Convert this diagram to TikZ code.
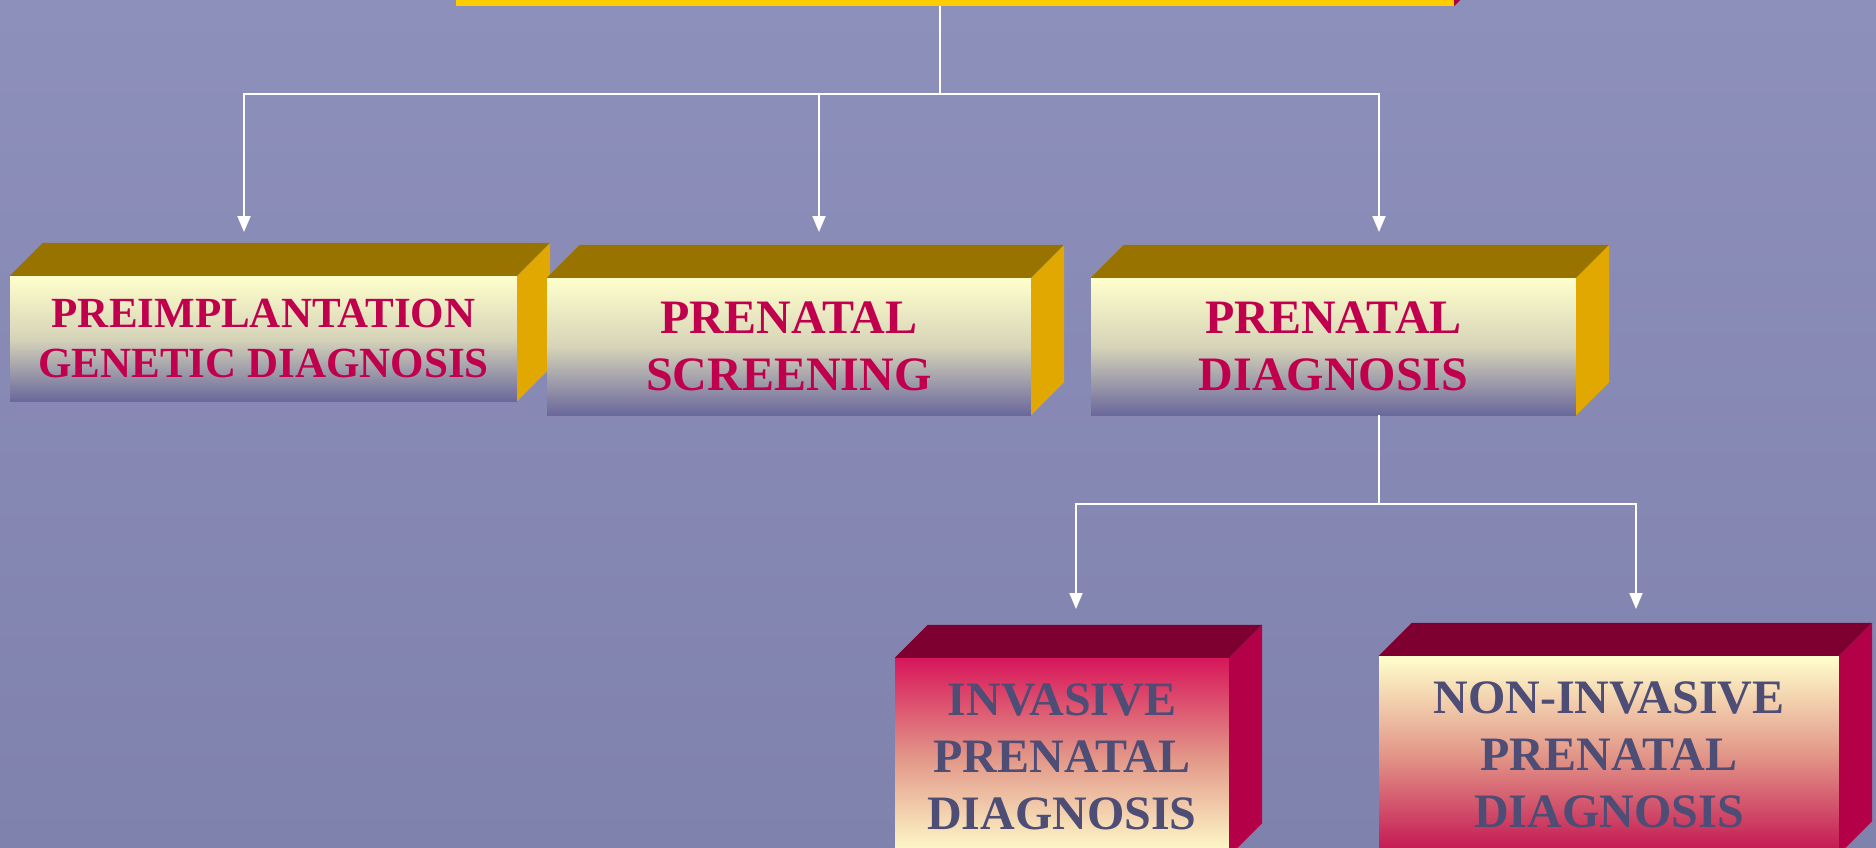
\documentclass[tikz,border=0pt]{standalone}
\usepackage{fontspec}
\setmainfont{Liberation Serif}
\usetikzlibrary{arrows.meta}
\definecolor{bgtop}{RGB}{142,144,188}
\definecolor{bgbottom}{RGB}{127,130,172}
\definecolor{paleyellow}{RGB}{255,255,204}
\definecolor{frontmid}{RGB}{214,212,184}
\definecolor{frontbottom}{RGB}{106,104,156}
\definecolor{goldtop}{RGB}{153,115,0}
\definecolor{goldside}{RGB}{224,168,0}
\definecolor{pinktext}{RGB}{192,0,76}
\definecolor{slatetext}{RGB}{77,77,117}
\definecolor{winetop}{RGB}{126,0,48}
\definecolor{wineside}{RGB}{180,0,70}
\definecolor{crimson}{RGB}{216,22,90}
\definecolor{salmon}{RGB}{226,150,136}
\definecolor{rootyellow}{RGB}{255,204,0}
\definecolor{rootside}{RGB}{176,0,64}

% top and right faces of a slab, drawn from the front node's anchors
\newcommand{\slabfaces}[3]{%
  \fill[#2] (#1.north west) -- ++(33,33) -- ([shift={(33,33)}]#1.north east) -- (#1.north east) -- cycle;
  \fill[#3] (#1.north east) -- ([shift={(33,33)}]#1.north east) -- ([shift={(33,33)}]#1.south east) -- (#1.south east) -- cycle;}

\begin{document}
\begin{tikzpicture}[x=1pt,y=1pt,
    front/.style={rectangle,inner sep=0pt,align=center,font=\bfseries\fontsize{48}{57}\selectfont},
    goldfront/.style={front,top color=paleyellow,bottom color=frontbottom,middle color=frontmid,text=pinktext},
    link/.style={draw=white,line width=2pt,-{Triangle[width=13pt,length=16pt]}},
    stem/.style={draw=white,line width=2pt}]
  \useasboundingbox (0,0) rectangle (1876,-848);
  \clip (0,0) rectangle (1876,-848);
  \fill[top color=bgtop,bottom color=bgbottom] (0,0) rectangle (1876,-848);

  % root (cut off at the top)
  \node[front,fill=rootyellow,minimum width=998,minimum height=60] (root) at (955,24) {};
  \slabfaces{root}{winetop}{rootside}

  % first level
  \node[goldfront,minimum width=507,minimum height=125,font=\bfseries\fontsize{43}{50}\selectfont]
    (pgd) at (263.5,-338.5) {PREIMPLANTATION\\GENETIC DIAGNOSIS};
  \slabfaces{pgd}{goldtop}{goldside}
  \node[goldfront,minimum width=484,minimum height=137] (ps) at (789,-346.5) {PRENATAL\\SCREENING};
  \slabfaces{ps}{goldtop}{goldside}
  \node[goldfront,minimum width=485,minimum height=137] (pd) at (1333.5,-346.5) {PRENATAL\\DIAGNOSIS};
  \slabfaces{pd}{goldtop}{goldside}

  % second level
  \node[front,minimum width=334,minimum height=198,text=slatetext,
    top color=crimson,bottom color=paleyellow,middle color=salmon]
    (inv) at (1062,-757) {INVASIVE\\PRENATAL\\DIAGNOSIS};
  \slabfaces{inv}{winetop}{wineside}
  \node[front,minimum width=460,minimum height=198,text=slatetext,
    top color=paleyellow,bottom color=crimson!90!black,middle color=salmon]
    (non) at (1609,-755) {NON-INVASIVE\\PRENATAL\\DIAGNOSIS};
  \slabfaces{non}{winetop}{wineside}

  % connectors
  \coordinate (fork1) at (940,-94);
  \coordinate (pgdin) at (244,-232);
  \coordinate (psin) at (819,-232);
  \coordinate (pdin) at (1379,-232);
  \draw[stem] (root.south -| fork1) -- (fork1);
  \draw[link] (fork1) -| (pgdin);
  \draw[link] (fork1) -| (psin);
  \draw[link] (fork1) -| (pdin);

  \coordinate (fork2) at (1379,-504);
  \coordinate (invin) at (1076,-609);
  \coordinate (nonin) at (1636,-609);
  \draw[stem] (pd.south -| fork2) -- (fork2);
  \draw[link] (fork2) -| (invin);
  \draw[link] (fork2) -| (nonin);
\end{tikzpicture}
\end{document}
